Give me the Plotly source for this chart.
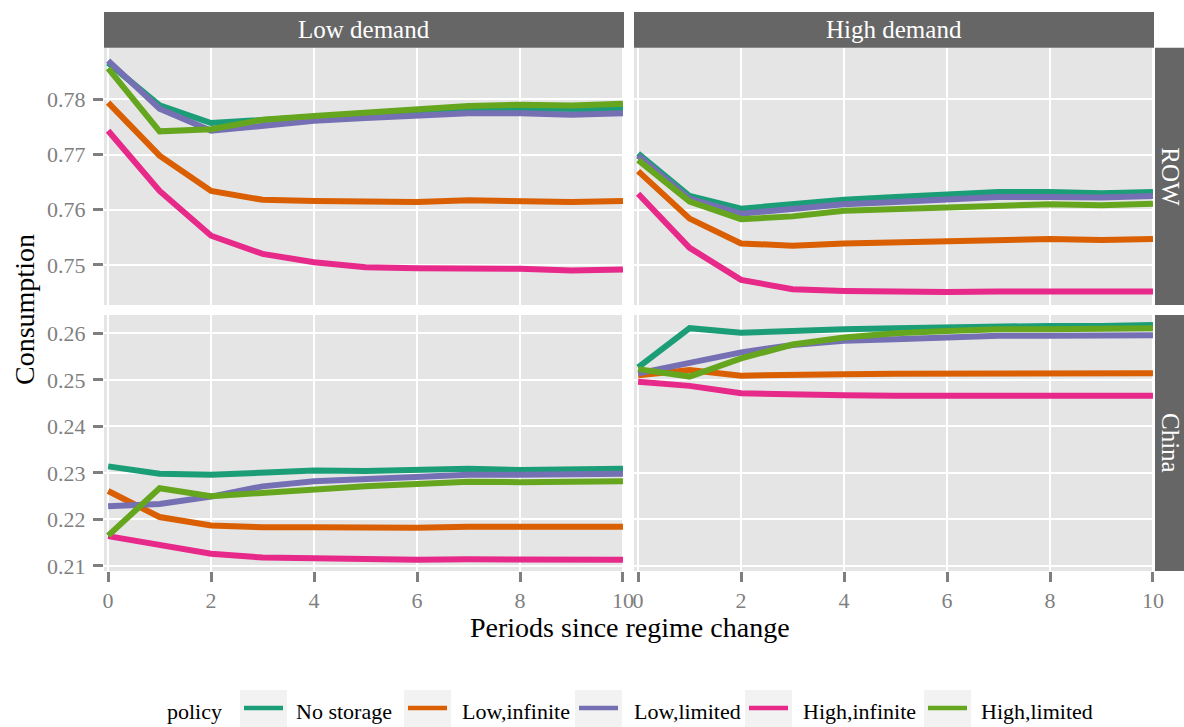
import plotly.graph_objects as go

# ---- data -------------------------------------------------------------
periods = list(range(11))
policies = ["No storage", "Low,infinite", "Low,limited", "High,infinite", "High,limited"]
policy_colors = ["#1B9E77", "#D95F02", "#7570B3", "#E7298A", "#66A61E"]
demand_labels = ["Low demand", "High demand"]
region_labels = ["ROW", "China"]

# ROW, low demand
row_low_no_storage = [0.7866, 0.7789, 0.7757, 0.7763, 0.7769, 0.7774, 0.7780, 0.7784, 0.7783, 0.7781, 0.7782]
row_low_low_infinite = [0.7794, 0.7698, 0.7634, 0.7618, 0.7616, 0.7614, 0.7614, 0.7617, 0.7616, 0.7614, 0.7616]
row_low_low_limited = [0.7870, 0.7783, 0.7743, 0.7752, 0.7761, 0.7766, 0.7770, 0.7775, 0.7775, 0.7772, 0.7775]
row_low_high_infinite = [0.7743, 0.7634, 0.7553, 0.7520, 0.7505, 0.7496, 0.7494, 0.7494, 0.7493, 0.7490, 0.7492]
row_low_high_limited = [0.7856, 0.7742, 0.7746, 0.7763, 0.7770, 0.7776, 0.7783, 0.7788, 0.7790, 0.7789, 0.7792]

# ROW, high demand
row_high_no_storage = [0.7702, 0.7625, 0.7602, 0.7610, 0.7618, 0.7623, 0.7627, 0.7632, 0.7632, 0.7630, 0.7632]
row_high_low_infinite = [0.7670, 0.7584, 0.7539, 0.7535, 0.7539, 0.7541, 0.7543, 0.7547, 0.7547, 0.7545, 0.7547]
row_high_low_limited = [0.7698, 0.7620, 0.7593, 0.7601, 0.7610, 0.7614, 0.7619, 0.7623, 0.7623, 0.7622, 0.7625]
row_high_high_infinite = [0.7629, 0.7531, 0.7473, 0.7456, 0.7453, 0.7451, 0.7451, 0.7452, 0.7452, 0.7451, 0.7452]
row_high_high_limited = [0.7690, 0.7615, 0.7583, 0.7588, 0.7598, 0.7601, 0.7605, 0.7609, 0.7610, 0.7608, 0.7611]

# China, low demand
china_low_no_storage = [0.2314, 0.2298, 0.2296, 0.2301, 0.2305, 0.2304, 0.2306, 0.2309, 0.2306, 0.2307, 0.2309]
china_low_low_infinite = [0.2261, 0.2205, 0.2187, 0.2183, 0.2183, 0.2182, 0.2182, 0.2184, 0.2184, 0.2184, 0.2184]
china_low_low_limited = [0.2228, 0.2233, 0.2249, 0.2271, 0.2282, 0.2287, 0.2293, 0.2296, 0.2296, 0.2296, 0.2298]
china_low_high_infinite = [0.2164, 0.2146, 0.2126, 0.2118, 0.2116, 0.2113, 0.2113, 0.2114, 0.2113, 0.2113, 0.2113]
china_low_high_limited = [0.2165, 0.2267, 0.2250, 0.2258, 0.2266, 0.2271, 0.2276, 0.2281, 0.2280, 0.2280, 0.2282]

# China, high demand
china_high_no_storage = [0.2527, 0.2611, 0.2601, 0.2606, 0.2609, 0.2611, 0.2613, 0.2616, 0.2616, 0.2616, 0.2618]
china_high_low_infinite = [0.2510, 0.2521, 0.2509, 0.2509, 0.2512, 0.2513, 0.2513, 0.2514, 0.2514, 0.2514, 0.2514]
china_high_low_limited = [0.2514, 0.2537, 0.2559, 0.2575, 0.2584, 0.2587, 0.2591, 0.2595, 0.2595, 0.2595, 0.2596]
china_high_high_infinite = [0.2496, 0.2487, 0.2471, 0.2468, 0.2467, 0.2466, 0.2466, 0.2467, 0.2467, 0.2466, 0.2466]
china_high_high_limited = [0.2523, 0.2507, 0.2546, 0.2576, 0.2591, 0.2600, 0.2605, 0.2609, 0.2609, 0.2609, 0.2611]

x_tick_values = [0, 2, 4, 6, 8, 10]
row_y_ticks = [0.75, 0.76, 0.77, 0.78]
china_y_ticks = [0.21, 0.22, 0.23, 0.24, 0.25, 0.26]

panels = [
    # (axis suffix, series list)
    ("", [row_low_no_storage, row_low_low_infinite, row_low_low_limited,
          row_low_high_infinite, row_low_high_limited]),
    ("2", [row_high_no_storage, row_high_low_infinite, row_high_low_limited,
           row_high_high_infinite, row_high_high_limited]),
    ("3", [china_low_no_storage, china_low_low_infinite, china_low_low_limited,
           china_low_high_infinite, china_low_high_limited]),
    ("4", [china_high_no_storage, china_high_low_infinite, china_high_low_limited,
           china_high_high_infinite, china_high_high_limited]),
]

# ---- page geometry (pixels -> paper fractions) -----------------------
W, H = 1184, 727


def fx(px):
    return px / W


def fy(py):
    return 1 - py / H


col_px = [(104, 624), (634, 1154)]
row_px = [(47.7, 305), (315, 571)]
strip_top_px = (12, 47.7)
strip_right_px = (1155, 1184)

FONT = "Liberation Serif"
TICK_GREY = "#7F7F7F"
STRIP_GREY = "#666666"

fig = go.Figure()

for suffix, series in panels:
    for name, color, values in zip(policies, policy_colors, series):
        fig.add_trace(go.Scatter(
            x=periods, y=values, mode="lines", name=name,
            line=dict(color=color, width=6),
            xaxis="x" + suffix, yaxis="y" + suffix,
            showlegend=False, hoverinfo="x+y+name",
        ))

x_range = [-0.08, 10.02]
row_range = [0.74275, 0.78935]
china_range = [0.2089, 0.26394]

common_x = dict(range=x_range, tickvals=x_tick_values, showgrid=True,
                gridcolor="white", gridwidth=2.4, zeroline=False,
                showline=False, tickfont=dict(family=FONT, size=22, color=TICK_GREY),
                ticks="outside", ticklen=10, tickwidth=2.5, tickcolor=TICK_GREY)
common_y = dict(showgrid=True, gridcolor="white", gridwidth=2.4, zeroline=False,
                showline=False, tickformat=".2f",
                tickfont=dict(family=FONT, size=22, color=TICK_GREY),
                ticks="outside", ticklen=10, tickwidth=2.5, tickcolor=TICK_GREY,
                ticklabelstandoff=3)

# the figure fills the browser window; all positions are paper fractions
layout = dict(
    autosize=True, margin=dict(l=0, r=0, t=0, b=0, autoexpand=False),
    paper_bgcolor="white", plot_bgcolor="#E5E5E5", showlegend=False,
    font=dict(family=FONT),
)

for suffix, (c, r) in zip(["", "2", "3", "4"], [(0, 0), (1, 0), (0, 1), (1, 1)]):
    ax = dict(common_x)
    ax["domain"] = [fx(col_px[c][0]), fx(col_px[c][1])]
    ax["anchor"] = "y" + suffix
    if r == 0:
        ax["showticklabels"] = False
        ax["ticks"] = ""
    layout["xaxis" + suffix] = ax

    ay = dict(common_y)
    ay["domain"] = [fy(row_px[r][1]), fy(row_px[r][0])]
    ay["anchor"] = "x" + suffix
    ay["range"] = row_range if r == 0 else china_range
    ay["tickvals"] = row_y_ticks if r == 0 else china_y_ticks
    if c == 1:
        ay["showticklabels"] = False
        ay["ticks"] = ""
    layout["yaxis" + suffix] = ay

fig.update_layout(**layout)

shapes = []
annotations = []

# facet strips: demand across the top
for (x0, x1), label in zip(col_px, demand_labels):
    shapes.append(dict(type="rect", xref="paper", yref="paper",
                       x0=fx(x0), x1=fx(x1), y0=fy(strip_top_px[1]), y1=fy(strip_top_px[0]),
                       fillcolor=STRIP_GREY, line=dict(width=0), layer="below"))
    annotations.append(dict(xref="paper", yref="paper", x=fx((x0 + x1) / 2),
                            y=fy(sum(strip_top_px) / 2), text=label, showarrow=False,
                            xanchor="center", yanchor="middle",
                            font=dict(family=FONT, size=25, color="white")))

# facet strips: region down the right side
for (y0, y1), label in zip(row_px, region_labels):
    shapes.append(dict(type="rect", xref="paper", yref="paper",
                       x0=fx(strip_right_px[0]), x1=fx(strip_right_px[1]) + 0.01,
                       y0=fy(y1), y1=fy(y0),
                       fillcolor=STRIP_GREY, line=dict(width=0), layer="below"))
    annotations.append(dict(xref="paper", yref="paper", x=fx(1171),
                            y=fy((y0 + y1) / 2), text=label, showarrow=False,
                            textangle=90, xanchor="center", yanchor="middle",
                            font=dict(family=FONT, size=25, color="white")))

# axis titles
annotations.append(dict(xref="paper", yref="paper", x=fx(630), y=fy(627),
                        text="Periods since regime change", showarrow=False,
                        xanchor="center", yanchor="middle",
                        font=dict(family=FONT, size=28, color="black")))
annotations.append(dict(xref="paper", yref="paper", x=fx(25), y=fy(310),
                        text="Consumption", showarrow=False, textangle=-90,
                        xanchor="center", yanchor="middle",
                        font=dict(family=FONT, size=28, color="black")))

# legend along the bottom
legend_y = 711
annotations.append(dict(xref="paper", yref="paper", x=fx(165), y=fy(legend_y),
                        text="policy", showarrow=False, xanchor="left", yanchor="middle",
                        font=dict(family=FONT, size=22, color="black")))
key_left_px = [240, 404, 575, 745, 924]
label_left_px = [294, 460, 632, 801, 979]
for name, color, kx, lx in zip(policies, policy_colors, key_left_px, label_left_px):
    shapes.append(dict(type="rect", xref="paper", yref="paper",
                       x0=fx(kx), x1=fx(kx + 47), y0=fy(740), y1=fy(690),
                       fillcolor="#F2F2F2", line=dict(width=0)))
    shapes.append(dict(type="line", xref="paper", yref="paper",
                       x0=fx(kx + 4), x1=fx(kx + 43), y0=fy(708), y1=fy(708),
                       line=dict(color=color, width=4.5)))
    annotations.append(dict(xref="paper", yref="paper", x=fx(lx), y=fy(legend_y),
                            text=name, showarrow=False, xanchor="left", yanchor="middle",
                            font=dict(family=FONT, size=22, color="black")))

fig.update_layout(shapes=shapes, annotations=annotations)

fig.write_html("out.html", default_width="100vw", default_height="100vh")
